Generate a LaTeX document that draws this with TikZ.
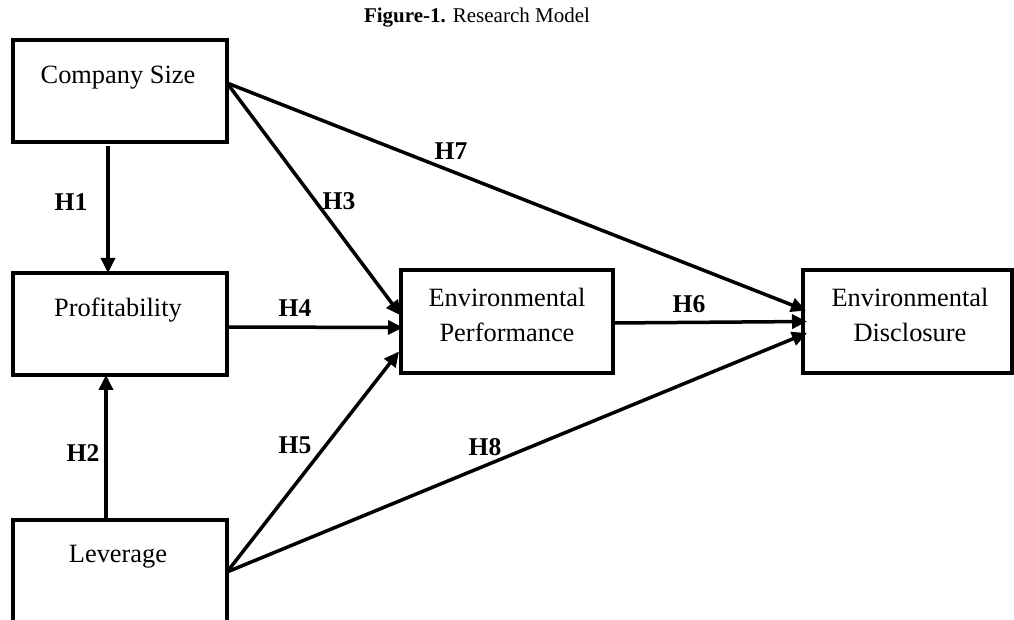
\documentclass[tikz,border=0pt]{standalone}
\usepackage{fontspec}
\setmainfont{Liberation Serif}
\usetikzlibrary{arrows.meta}
\begin{document}
\begin{tikzpicture}[x=0.5pt,y=-0.5pt,
  box/.style={draw,line width=1.65pt,inner sep=0pt,outer sep=0pt,minimum width=107pt,minimum height=51pt},
  wbox/.style={draw,line width=1.65pt,inner sep=0pt,outer sep=0pt,minimum height=51.5pt},
  boxtext/.style={font=\fontsize{13.2}{17.5}\selectfont,align=center,inner sep=0pt},
  hlab/.style={font=\fontsize{12.8}{14}\selectfont\bfseries,inner sep=0pt},
  conn/.style={line width=1.75pt,-{Triangle[length=7.5pt,width=7pt]}}]
\useasboundingbox (0,0) rectangle (1014,620);
\node[font=\fontsize{10.5}{12}\selectfont,inner sep=0pt] (title) at (477,18) {\textbf{Figure-1.} Research Model};
% boxes
\node[box] (cs) at (120,91) {};
\node[box] (pr) at (120,324) {};
\node[box] (lv) at (120,571) {};
\node[wbox,minimum width=106pt] (ep) at (507,321.5) {};
\node[wbox,minimum width=104.5pt] (ed) at (907.5,321.5) {};
% texts
\node[boxtext] (cst) at (118,78) {Company Size};
\node[boxtext] (prt) at (118,310) {Profitability};
\node[boxtext] (lvt) at (118,557) {Leverage};
\node[boxtext] (ept) at (507,315) {Environmental\\Performance};
\node[boxtext] (edt) at (910,315) {Environmental\\Disclosure};
% connectors
\draw[conn] ([xshift=-6pt,yshift=-2pt]cs.south) -- ([xshift=-6pt]pr.north);
\draw[conn] ([xshift=-7pt]lv.north) -- ([xshift=-7pt]pr.south);
\draw[conn] ([yshift=4pt]cs.east) -- ([yshift=3pt]ep.west);
\draw[conn] ([yshift=4pt]cs.east) -- ([xshift=1.5pt,yshift=5.5pt]ed.west);
\draw[conn] ([yshift=-1.5pt]pr.east) -- ([xshift=1pt,yshift=-3pt]ep.west);
\draw[conn] ([yshift=-0.5pt]lv.east) -- ([xshift=-1pt,yshift=-15pt]ep.west);
\draw[conn] ([yshift=-0.75pt]ep.east) -- ([xshift=2pt,yshift=0pt]ed.west);
\draw[conn] ([yshift=-0.5pt]lv.east) -- ([xshift=2pt,yshift=-5.75pt]ed.west);
% labels
\node[hlab] (h1) at (71,202) {H1};
\node[hlab] (h2) at (83,453) {H2};
\node[hlab] (h3) at (339,201) {H3};
\node[hlab] (h7) at (451,151) {H7};
\node[hlab] (h4) at (295,308) {H4};
\node[hlab] (h6) at (689,304) {H6};
\node[hlab] (h5) at (295,445) {H5};
\node[hlab] (h8) at (485,447) {H8};
\end{tikzpicture}
\end{document}
